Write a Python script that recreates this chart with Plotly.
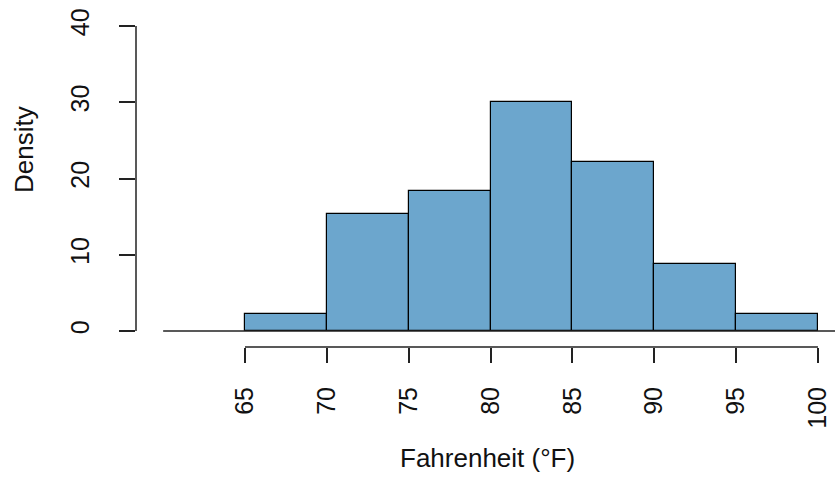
import plotly.graph_objects as go

bin_starts = [65, 70, 75, 80, 85, 90, 95]
bin_width = 5
density = [2.2, 15.4, 18.3, 30.0, 22.1, 8.8, 2.2]
x_ticks = [65, 70, 75, 80, 85, 90, 95, 100]
y_ticks = [0, 10, 20, 30, 40]

centers = [s + bin_width / 2 for s in bin_starts]

W, H = 835, 479
L, R, T, B = 136, 0, 20, 132
pw, ph = W - L - R, H - T - B

FONT = "Liberation Sans, Arial, sans-serif"
FS = 26
TFS = 25

fig = go.Figure()
fig.add_trace(go.Bar(
    x=centers, y=density, width=[bin_width] * len(centers),
    marker=dict(color="#6CA6CD", line=dict(color="#000000", width=1.2)),
    hoverinfo="skip", showlegend=False,
))

shapes = [
    # baseline at y=0
    dict(type="line", xref="x", yref="y", x0=60, x1=101.1, y0=0, y1=0,
         line=dict(color="#222222", width=1.5)),
    # x axis line (65..100)
    dict(type="line", xref="x", yref="paper", x0=x_ticks[0], x1=x_ticks[-1], y0=0, y1=0,
         line=dict(color="#222222", width=1.5)),
    # y axis line (0..40)
    dict(type="line", xref="paper", yref="y", x0=0, x1=0, y0=y_ticks[0], y1=y_ticks[-1],
         line=dict(color="#222222", width=1.5)),
]

fig.update_layout(
    width=W, height=H,
    margin=dict(l=L, r=R, t=T, b=B, pad=0, autoexpand=False),
    paper_bgcolor="white", plot_bgcolor="white",
    font=dict(family=FONT, size=FS, color="#111111"),
    bargap=0,
    shapes=shapes,
    xaxis=dict(
        range=[65 - 109 / 16.37, 65 + 590 / 16.37],
        tickvals=x_ticks, ticktext=[str(v) for v in x_ticks],
        tickangle=-90, ticks="outside", ticklen=15, tickwidth=1.5, tickcolor="#222222",
        ticklabelstandoff=14, automargin=False,
        showline=False, showgrid=False, zeroline=False,
        tickfont=dict(size=TFS),
    ),
    yaxis=dict(
        range=[-16 / 7.625, 40 + 6 / 7.625],
        tickvals=y_ticks, ticktext=[str(v) for v in y_ticks],
        tickangle=-90, ticks="outside", ticklen=16, tickwidth=1.5, tickcolor="#222222",
        ticklabelstandoff=20, automargin=False,
        showline=False, showgrid=False, zeroline=False,
        tickfont=dict(size=TFS),
    ),
    annotations=[
        dict(text="Fahrenheit (°F)", xref="paper", yref="paper",
             x=(487 - L) / pw, y=(H - B - 458) / ph, xanchor="center", yanchor="middle",
             showarrow=False, font=dict(size=FS)),
        dict(text="Density", xref="paper", yref="paper",
             x=(24 - L) / pw, y=(H - B - 150) / ph, xanchor="center", yanchor="middle",
             textangle=-90, showarrow=False, font=dict(size=FS)),
    ],
)

fig.write_html(
    "out.html",
    config={"displayModeBar": False},
    post_script="document.body.style.margin='0';document.body.style.overflow='hidden';",
)
